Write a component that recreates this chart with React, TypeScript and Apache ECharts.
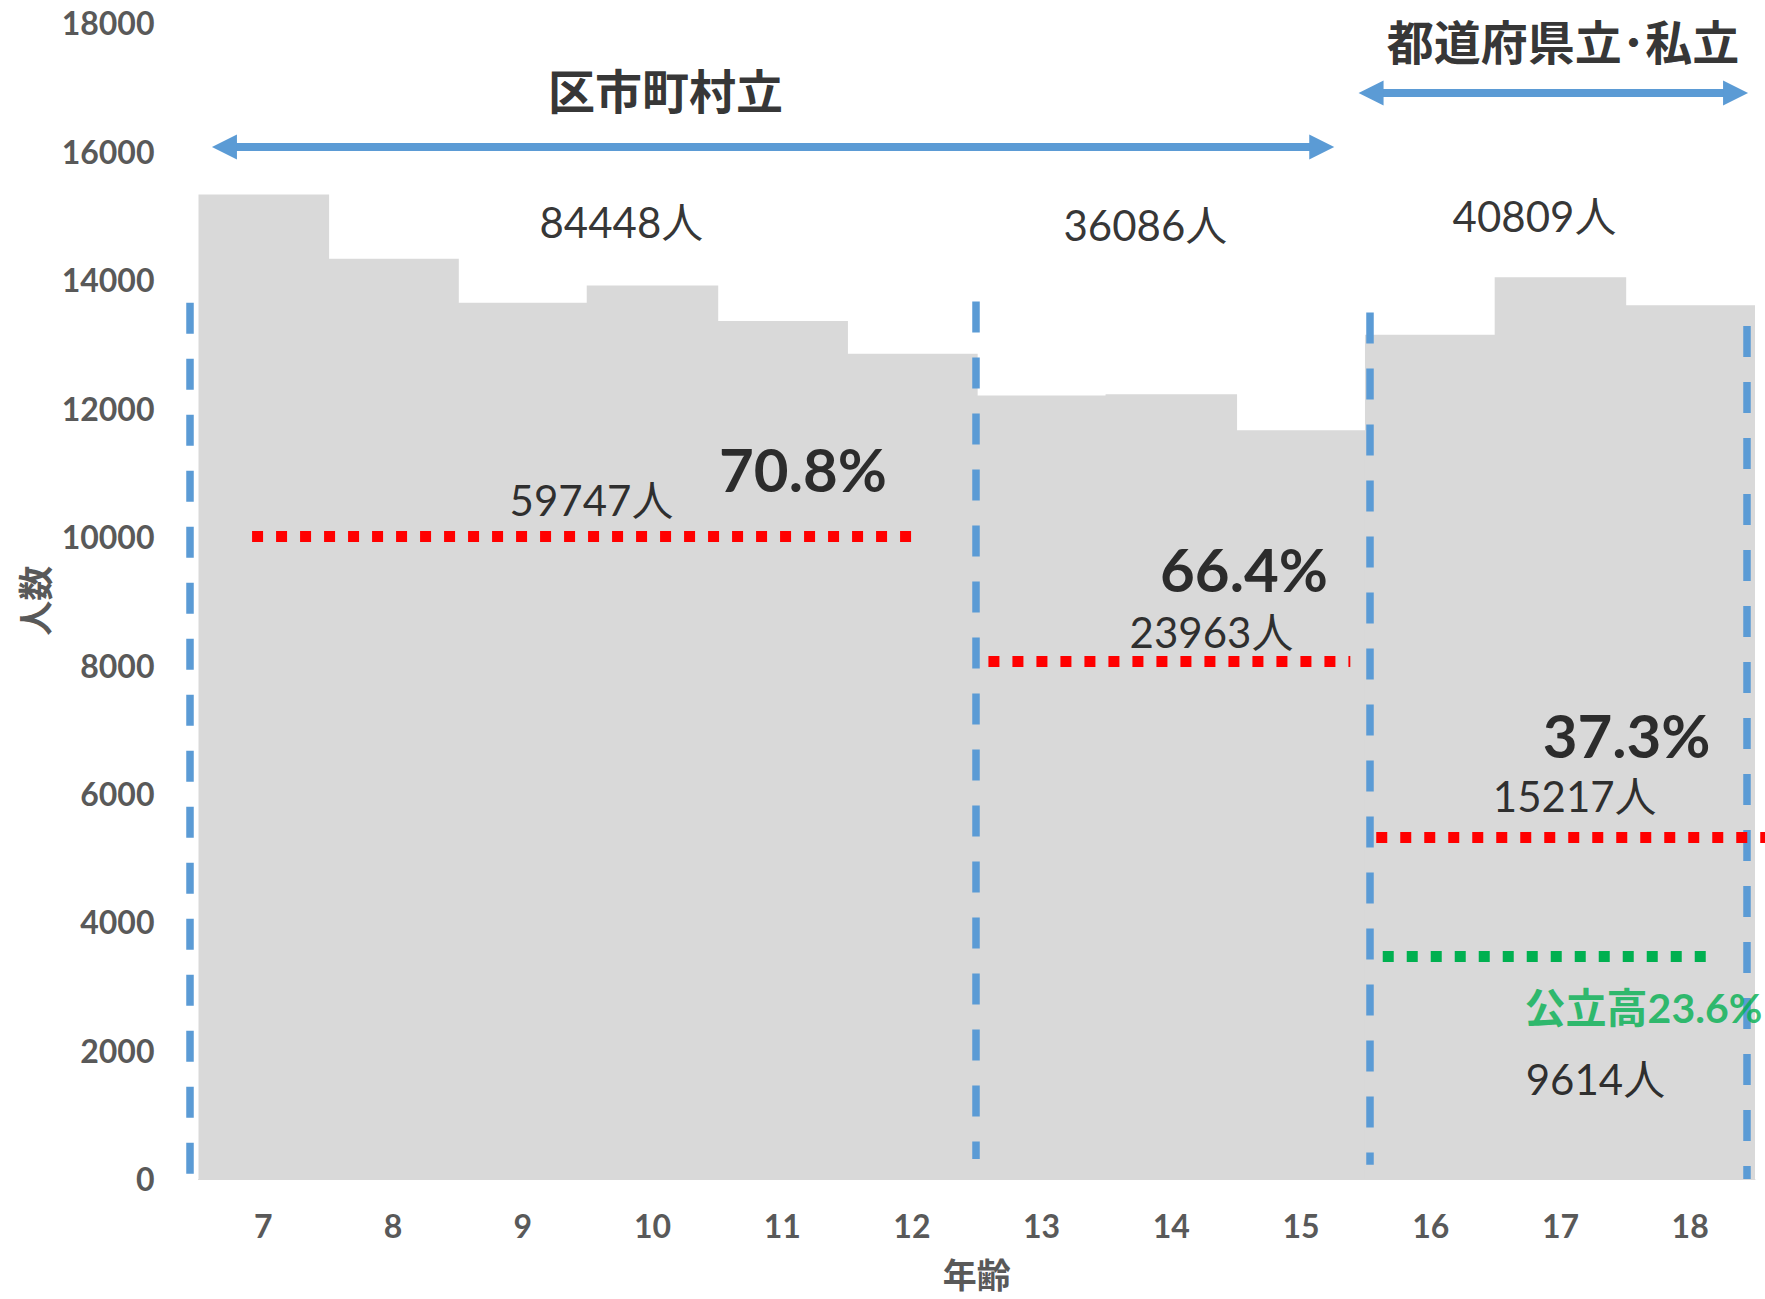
import React, { useEffect, useRef } from 'react';
import * as echarts from 'echarts';

// ---- data ----
const ages = ['7', '8', '9', '10', '11', '12', '13', '14', '15', '16', '17', '18'];
const population = [15325, 14328, 13643, 13908, 13356, 12847, 12199, 12216, 11655, 13145, 14039, 13601];
const yMin = 0;
const yMax = 18000;
const yInterval = 2000;

// blue dashed dividers between school types (x in category-index units)
const dividerX = [-0.566, 5.49, 8.53, 11.44];
const dividerTop = [13640, 13660, 13490, 13280];
const dividerBottom = [0, 310, 220, 0];

// red dotted "share" levels
const redStart = [-0.087, 5.59, 8.58];
const redEnd = [5.016, 8.38, 11.58];
const redValue = [10000, 8067, 5318];

// green dotted public high-school level
const greenStart = [8.63];
const greenEnd = [11.13];
const greenValue = [3470];

// double-headed arrows over groups
const arrowStart = [-0.3, 8.54];
const arrowEnd = [8.16, 11.35];
const arrowValue = [16065, 16908];

// texts
const groupTitles = ['区市町村立', '都道府県立･私立'];
const groupTitleX = [3.1, 10.02];
const groupTitleY = [16970, 17740];

const totalLabels = ['84448人', '36086人', '40809人'];
const totalX = [2.76, 6.8, 9.8];
const totalY = [14905, 14858, 14998];

const countLabels = ['59747人', '23963人', '15217人', '9614人'];
const countX = [2.53, 7.31, 10.11, 10.27];
const countY = [10575, 8519, 5964, 1556];

const rateLabels = ['70.8%', '66.4%', '37.3%'];
const rateX = [4.16, 7.56, 10.51];
const rateY = [11057, 9500, 6914];

const publicLabels = ['公立高23.6%'];
const publicX = [10.64];
const publicY = [2662];

const NUM_FONT = "Lato, 'Noto Sans CJK JP', sans-serif";
const CJK_FONT = "'Noto Sans CJK JP', sans-serif";

function segs(starts: number[], ends: number[], vals: number[]) {
  return starts.map((s, i) => ({ coords: [[s, vals[i]], [ends[i], vals[i]]] }));
}

function textItems(
  texts: string[],
  xs: number[],
  ys: number[],
  style: Record<string, unknown>
) {
  return texts.map((t, i) => ({
    name: t,
    value: [xs[i], ys[i]],
    label: { show: true, ...style },
  }));
}

export default function App() {
  const ref = useRef<HTMLDivElement>(null);

  useEffect(() => {
    if (!ref.current) return;
    const chart = echarts.init(ref.current, undefined, { renderer: 'svg' });

    const textData = [
      ...textItems(groupTitles, groupTitleX, groupTitleY, {
        fontSize: 47,
        fontWeight: 'bold',
        color: '#000000',
        fontFamily: CJK_FONT,
      }),
      ...textItems(totalLabels, totalX, totalY, {
        fontSize: 42,
        fontWeight: 'normal',
        color: '#000000',
        fontFamily: NUM_FONT,
      }),
      ...textItems(countLabels, countX, countY, {
        fontSize: 42,
        fontWeight: 'normal',
        color: '#000000',
        fontFamily: NUM_FONT,
      }),
      ...textItems(rateLabels, rateX, rateY, {
        fontSize: 60,
        fontWeight: 'bold',
        color: '#000000',
        fontFamily: NUM_FONT,
      }),
      ...textItems(publicLabels, publicX, publicY, {
        fontSize: 41,
        fontWeight: 'bold',
        color: '#00b050',
        fontFamily: NUM_FONT,
      }),
    ];

    chart.setOption({
      animation: false,
      grid: { left: 198.5, right: 10, top: 22.8, bottom: 120.1, containLabel: false },
      xAxis: [
        {
          type: 'category',
          data: ages,
          boundaryGap: true,
          axisTick: { show: false },
          axisLine: { show: true, lineStyle: { color: '#d9d9d9', width: 1 } },
          axisLabel: {
            fontSize: 32,
            fontWeight: 'bold',
            color: '#595959',
            fontFamily: NUM_FONT,
            margin: 31,
          },
          splitLine: { show: false },
          name: '年齢',
          nameLocation: 'middle',
          nameGap: 78,
          nameTextStyle: {
            fontSize: 34,
            fontWeight: 'bold',
            color: '#595959',
            fontFamily: CJK_FONT,
          },
        },
        {
          type: 'value',
          min: -0.5,
          max: 11.5,
          show: false,
          position: 'bottom',
        },
      ],
      yAxis: {
        type: 'value',
        min: yMin,
        max: yMax,
        interval: yInterval,
        axisLine: { show: false },
        axisTick: { show: false },
        splitLine: { show: false },
        axisLabel: {
          fontSize: 32,
          fontWeight: 'bold',
          color: '#595959',
          fontFamily: NUM_FONT,
          margin: 44,
          formatter: (v: number) => String(v),
        },
        name: '人数',
        nameLocation: 'middle',
        nameRotate: 90,
        nameGap: 148,
        nameTextStyle: {
          fontSize: 35,
          fontWeight: 'bold',
          color: '#595959',
          fontFamily: CJK_FONT,
        },
      },
      series: [
        {
          type: 'bar',
          data: population,
          barWidth: 131.5,
          itemStyle: { color: '#d9d9d9' },
          silent: true,
          z: 1,
        },
        {
          type: 'lines',
          coordinateSystem: 'cartesian2d',
          xAxisIndex: 1,
          yAxisIndex: 0,
          clip: false,
          silent: true,
          symbol: 'none',
          z: 3,
          lineStyle: { color: '#5b9bd5', width: 7.5, type: [31, 25], cap: 'butt', opacity: 1, curveness: 0 },
          data: dividerX.map((x, i) => ({ coords: [[x, dividerTop[i]], [x, dividerBottom[i]]] })),
        },
        {
          type: 'lines',
          coordinateSystem: 'cartesian2d',
          xAxisIndex: 1,
          yAxisIndex: 0,
          clip: false,
          silent: true,
          symbol: 'none',
          z: 4,
          lineStyle: { color: '#ff0000', width: 11, type: [11, 13], cap: 'butt', opacity: 1, curveness: 0 },
          data: segs(redStart, redEnd, redValue),
        },
        {
          type: 'lines',
          coordinateSystem: 'cartesian2d',
          xAxisIndex: 1,
          yAxisIndex: 0,
          clip: false,
          silent: true,
          symbol: 'none',
          z: 4,
          lineStyle: { color: '#00b050', width: 11, type: [11, 13], cap: 'butt', opacity: 1, curveness: 0 },
          data: segs(greenStart, greenEnd, greenValue),
        },
        {
          type: 'lines',
          coordinateSystem: 'cartesian2d',
          xAxisIndex: 1,
          yAxisIndex: 0,
          clip: false,
          silent: true,
          symbol: ['triangle', 'triangle'],
          symbolSize: 25,
          z: 4,
          lineStyle: { color: '#5b9bd5', width: 8, type: 'solid', opacity: 1, curveness: 0 },
          data: segs(arrowStart, arrowEnd, arrowValue),
        },
        {
          type: 'scatter',
          xAxisIndex: 1,
          yAxisIndex: 0,
          silent: true,
          clip: false,
          symbolSize: 0,
          itemStyle: { color: 'rgba(0,0,0,0)' },
          z: 6,
          label: {
            show: true,
            position: 'inside',
            formatter: '{b}',
            align: 'center',
            verticalAlign: 'middle',
          },
          data: textData,
        },
      ],
    });

    return () => {
      chart.dispose();
    };
  }, []);

  return (
    <div
      ref={ref}
      style={{ position: 'absolute', left: 0, top: 0, width: 1765, height: 1299, background: '#ffffff' }}
    />
  );
}
